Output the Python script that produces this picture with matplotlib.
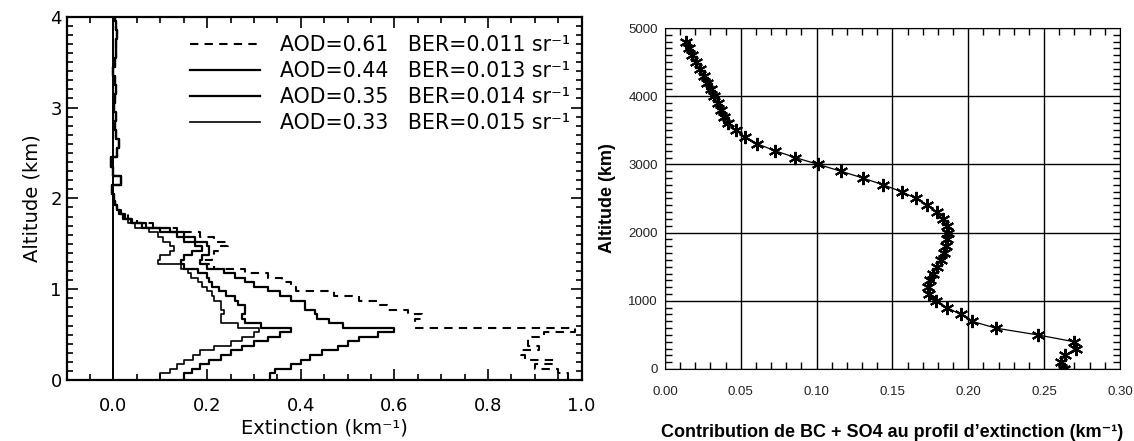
"""
Extinction profiles (left) and BC + SO4 contribution profile (right).
"""

import numpy as np
import matplotlib
matplotlib.use('Agg')
import matplotlib.pyplot as plt
from matplotlib.ticker import MultipleLocator, FormatStrFormatter


# ---- left panel: lidar extinction profiles (km-1) ----
# altitude 0.00 .. 2.00 km every 0.05 km
alt_low = np.round(np.arange(0, 41) * 0.05, 2)
# altitude 2.1 .. 4.0 km every 0.1 km (all curves ~ 0 there)
alt_high = np.round(2.0 + np.arange(1, 21) * 0.1, 2)

ext_061 = [0.97, 0.97, 0.95, 0.90, 0.94, 0.88, 0.87, 0.91, 0.885, 0.885, 0.92,
           0.985, 0.645, 0.645, 0.66, 0.63, 0.585, 0.57, 0.525, 0.47, 0.39,
           0.38, 0.36, 0.33, 0.28, 0.215, 0.19, 0.21, 0.215, 0.23, 0.245,
           0.215, 0.185, 0.135, 0.085, 0.05, 0.03, 0.016, 0.008, 0.004, 0.002]
ext_044 = [0.335, 0.335, 0.345, 0.38, 0.40, 0.42, 0.445, 0.48, 0.50, 0.525,
           0.565, 0.60, 0.49, 0.46, 0.435, 0.43, 0.41, 0.41, 0.38, 0.355,
           0.33, 0.30, 0.28, 0.26, 0.235, 0.20, 0.185, 0.19, 0.205, 0.205,
           0.20, 0.175, 0.15, 0.12, 0.07, 0.04, 0.025, 0.014, 0.008, 0.004,
           0.002]
ext_035 = [0.15, 0.15, 0.167, 0.185, 0.205, 0.23, 0.25, 0.275, 0.30, 0.33,
           0.355, 0.38, 0.315, 0.28, 0.275, 0.28, 0.28, 0.265, 0.26, 0.24,
           0.225, 0.21, 0.205, 0.20, 0.18, 0.15, 0.145, 0.15, 0.167, 0.19,
           0.175, 0.15, 0.135, 0.10, 0.06, 0.037, 0.02, 0.012, 0.008, 0.004,
           0.002]
ext_033 = [0.10, 0.10, 0.12, 0.135, 0.15, 0.17, 0.185, 0.215, 0.25, 0.275,
           0.30, 0.31, 0.265, 0.23, 0.23, 0.235, 0.23, 0.23, 0.215, 0.21,
           0.20, 0.19, 0.18, 0.165, 0.16, 0.145, 0.095, 0.10, 0.12, 0.13,
           0.12, 0.105, 0.095, 0.075, 0.045, 0.03, 0.02, 0.012, 0.008, 0.004,
           0.002]
ext_high = [-0.003, 0.015, 0.0, -0.006, 0.008, 0.012, 0.005, 0.003, 0.006,
            0.002, 0.004, 0.005, 0.003, 0.0, 0.004, 0.006, 0.005, 0.008,
            0.006, 0.004]

aod_labels = ['0.61', '0.44', '0.35', '0.33']
ber_labels = ['0.011', '0.013', '0.014', '0.015']

# ---- right panel: BC + SO4 contribution (km-1) vs altitude (m) ----
alt_model = np.arange(0, 4801, 100)
contrib = [0.263, 0.261, 0.2637, 0.271, 0.2697, 0.2457, 0.218, 0.2024, 0.195,
           0.186, 0.179, 0.1743, 0.1736, 0.175, 0.177, 0.1796, 0.182, 0.1837,
           0.1856, 0.186, 0.1868, 0.186, 0.183, 0.1796, 0.173, 0.1656, 0.156,
           0.144, 0.1305, 0.116, 0.101, 0.086, 0.0726, 0.061, 0.0527, 0.0466,
           0.0413, 0.039, 0.037, 0.0349, 0.0325, 0.0305, 0.028, 0.0257,
           0.0228, 0.0204, 0.0178, 0.0159, 0.0137]


def profile_steps(values, alt):
    """Turn a profile into a vertical staircase (value constant in each bin)."""
    values = np.asarray(values)
    alt = np.asarray(alt)
    edges = np.concatenate([[alt[0]], (alt[1:] + alt[:-1]) / 2, [alt[-1]]])
    xs = np.repeat(values, 2)
    ys = np.repeat(edges, 2)[1:-1]
    return xs, ys


def draw_left(ax):
    alt = np.concatenate([alt_low, alt_high])
    series = [ext_061, ext_044, ext_035, ext_033]
    styles = [dict(ls=(0, (4, 3)), lw=1.5),
              dict(ls='-', lw=1.6),
              dict(ls='-', lw=1.6),
              dict(ls='-', lw=1.2)]

    ax.axvline(0, color='black', lw=1.4)
    for vals, aod, ber, st in zip(series, aod_labels, ber_labels, styles):
        xs, ys = profile_steps(np.concatenate([vals, ext_high]), alt)
        ax.plot(xs, ys, color='black',
                label=f'AOD={aod}   BER={ber} sr\u207b\u00b9', **st)

    ax.set_xlim(-0.1, 1.0)
    ax.set_ylim(0, 4)
    ax.xaxis.set_major_locator(MultipleLocator(0.2))
    ax.xaxis.set_minor_locator(MultipleLocator(0.05))
    ax.xaxis.set_major_formatter(FormatStrFormatter('%.1f'))
    ax.yaxis.set_major_locator(MultipleLocator(1))
    ax.yaxis.set_minor_locator(MultipleLocator(0.1))
    ax.tick_params(which='both', direction='in', top=True, right=True,
                   width=1.2, labelsize=13)
    ax.tick_params(which='major', length=8)
    ax.tick_params(which='minor', length=4)
    ax.tick_params(axis='x', pad=12)
    for sp in ax.spines.values():
        sp.set_linewidth(1.6)

    ax.set_xlabel('Extinction (km\u207b\u00b9)', fontsize=14, labelpad=3)
    ax.set_ylabel('Altitude (km)', fontsize=14, labelpad=6)

    ax.legend(loc='upper right', bbox_to_anchor=(0.978, 0.95),
              frameon=False, fontsize=14.8, handlelength=3.4,
              handletextpad=1.0, labelspacing=0.3, borderpad=0,
              borderaxespad=0)


def draw_right(ax):
    ax.plot(contrib, alt_model, color='black', lw=0.9,
            marker=(6, 2, 0), markersize=9.5, markeredgewidth=1.5)

    ax.set_xlim(0, 0.30)
    ax.set_ylim(0, 5000)
    ax.xaxis.set_major_locator(MultipleLocator(0.05))
    ax.xaxis.set_minor_locator(MultipleLocator(0.01))
    ax.xaxis.set_major_formatter(FormatStrFormatter('%.2f'))
    ax.yaxis.set_major_locator(MultipleLocator(1000))
    ax.yaxis.set_minor_locator(MultipleLocator(100))
    ax.grid(True, which='major', color='black', lw=1.0)
    ax.tick_params(which='both', direction='in', top=True, right=True,
                   width=1.0, labelsize=9.5, colors='black')
    ax.tick_params(which='major', length=0)
    ax.tick_params(which='minor', length=5)
    ax.tick_params(axis='x', pad=12)
    ax.tick_params(axis='y', pad=5)
    for lab in ax.get_xticklabels() + ax.get_yticklabels():
        lab.set_family(['Liberation Sans', 'DejaVu Sans'])
        lab.set_color('#222222')

    ax.set_ylabel('Altitude (km)', fontsize=13, fontweight='bold',
                  family=['Liberation Sans', 'DejaVu Sans'], labelpad=9)
    ax.set_xlabel('Contribution de BC + SO4 au profil d\u2019extinction '
                  '(km\u207b\u00b9)', fontsize=13, fontweight='bold',
                  family=['Liberation Sans', 'DejaVu Sans'], labelpad=19)


def main():
    plt.rcParams['font.family'] = ['DejaVu Sans']
    fig = plt.figure(figsize=(11.34, 4.41), dpi=100)

    ax_left = fig.add_axes([0.0588, 0.1383, 0.4541, 0.8238])
    ax_right = fig.add_axes([0.5864, 0.1633, 0.4012, 0.7732])

    draw_left(ax_left)
    draw_right(ax_right)

    fig.savefig('out.png', dpi=100)


if __name__ == '__main__':
    main()
